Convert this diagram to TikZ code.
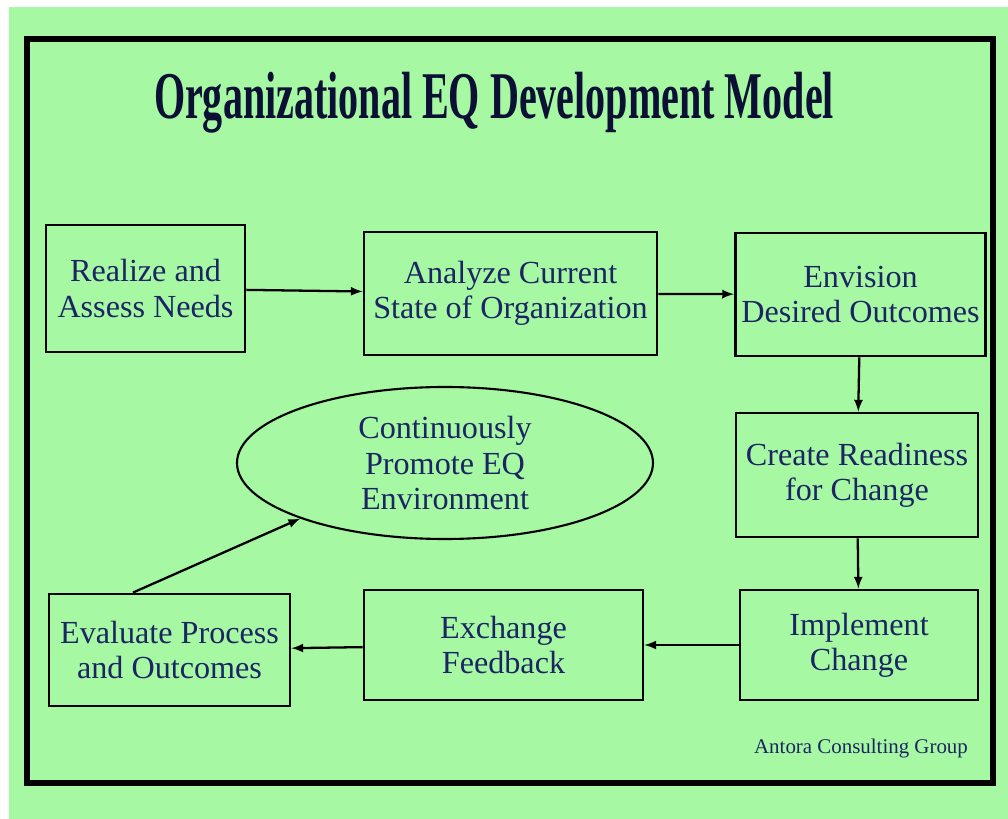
\documentclass[tikz,border=0pt]{standalone}
\usepackage{fontspec}
\setmainfont{Liberation Serif}
\usepackage{tikz}
\usetikzlibrary{shapes, arrows, calc}

\definecolor{bggreen}{RGB}{166,249,162}
\definecolor{navy}{RGB}{28,36,100}
\definecolor{titlenavy}{RGB}{12,16,52}

\begin{document}
\begin{tikzpicture}[
  stepbox/.style={rectangle, draw, line width=1.6pt, align=center, text=navy,
    font=\fontsize{18.3}{20}\selectfont},
  flow/.style={-latex, line width=1.3pt}]
\useasboundingbox (0,0) rectangle (20.16,-16.38);
\fill[white] (0,0) rectangle (20.16,-16.38);
\fill[bggreen] (0.18,-0.14) rectangle (20.16,-16.38);
\draw[line width=3.4pt] (0.54,-0.78) rectangle (19.86,-15.66);

\node[text=titlenavy, font=\fontsize{38}{40}\bfseries\selectfont] (title) at (9.88,-2.06)
  {\scalebox{0.6}[1]{Organizational EQ Development Model}};

\node[stepbox, minimum width=3.98cm, minimum height=2.54cm] (realize) at (2.91,-5.77) {Realize and\\Assess Needs};
\node[stepbox, minimum width=5.86cm, minimum height=2.46cm] (analyze) at (10.21,-5.87) {Analyze Current\\State of Organization};
\node[stepbox, minimum width=4.98cm, minimum height=2.46cm] (envision) at (17.21,-5.89) {Envision\\Desired Outcomes};
\node[stepbox, minimum width=4.84cm, minimum height=2.48cm] (ready) at (17.14,-9.50) {Create Readiness\\for Change};
\node[stepbox, minimum width=4.76cm, minimum height=2.20cm] (implement) at (17.18,-12.90) {Implement\\Change};
\node[stepbox, minimum width=5.58cm, minimum height=2.20cm] (feedback) at (10.07,-12.90) {Exchange\\Feedback};
\node[stepbox, minimum width=4.82cm, minimum height=2.24cm] (evaluate) at (3.39,-13.00) {Evaluate Process\\and Outcomes};
\node[stepbox, ellipse, line width=1.2pt, minimum width=8.32cm, minimum height=3.04cm, inner sep=0pt] (promote) at (8.90,-9.26) {Continuously\\Promote EQ\\Environment};

\node[text=navy, font=\fontsize{11.9}{13}\selectfont] (credit) at (17.22,-14.96) {Antora Consulting Group};

\coordinate (evaltop) at ($(evaluate.north west)!0.35!(evaluate.north east)$);
\draw[flow] (realize) -- (analyze);
\draw[flow] (analyze) -- (envision);
\draw[flow] (envision) -- (ready);
\draw[flow] (ready) -- (implement);
\draw[flow] (implement) -- (feedback);
\draw[flow] (feedback) -- (evaluate);
\draw[flow] (evaltop) -- (promote.201);
\end{tikzpicture}
\end{document}
